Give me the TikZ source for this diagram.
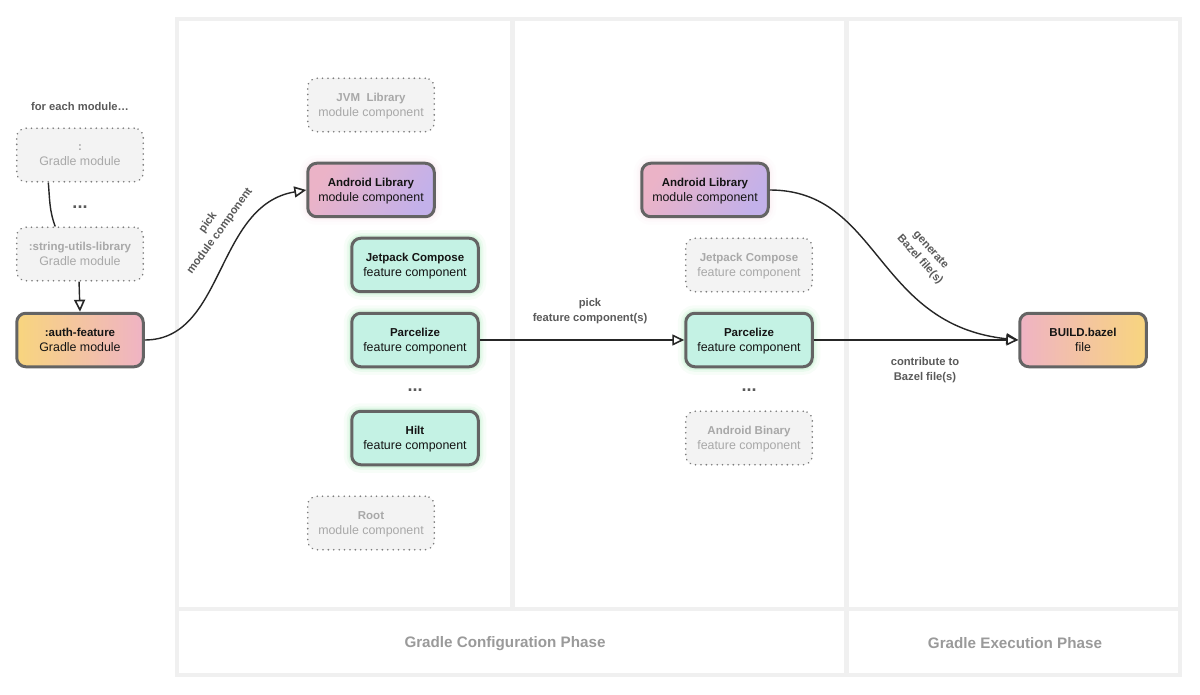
\documentclass[tikz,border=0pt]{standalone}
\usepackage{fontspec}
\setmainfont{Liberation Sans}
\usetikzlibrary{arrows.meta}
\definecolor{frameline}{HTML}{F0F0F0}
\definecolor{boxline}{HTML}{646464}
\definecolor{labelgrey}{HTML}{5A5A5A}
\definecolor{phasegrey}{HTML}{9A9A9A}
\definecolor{fadedtext}{HTML}{A8A8A8}
\definecolor{fadedfill}{HTML}{F3F3F3}
\definecolor{inkblack}{HTML}{141414}
\definecolor{sunyellow}{HTML}{F8D57E}
\definecolor{softpink}{HTML}{EFB3C4}
\definecolor{softpurple}{HTML}{C3B1EA}
\definecolor{mintfill}{HTML}{C4F2E4}
\newcommand\boxtitle[1]{{\fontsize{11.5}{15.4}\selectfont\bfseries #1}}
\tikzset{
  base/.style={rectangle,rounded corners=9pt,minimum width=126.5pt,minimum height=53.5pt,
    inner sep=0pt,align=center,text depth=-1pt,font=\fontsize{12.4}{15.4}\selectfont},
  solidbox/.style={base,draw=boxline,line width=3pt,text=inkblack},
  faded/.style={base,draw=boxline!85,fill=fadedfill,text=fadedtext,line width=1.6pt,
    line cap=round,dash pattern=on 0.2pt off 5.2pt},
  glow/.style={preaction={draw=#1,line width=16pt,opacity=.03},
    preaction={draw=#1,line width=10pt,opacity=.05},
    preaction={draw=#1,line width=6pt,opacity=.07}},
  feature/.style={solidbox,fill=mintfill,glow=green!55!teal},
  modulebox/.style={solidbox,left color=softpink!92!softpurple,right color=softpurple,shading angle=60,glow=softpink},
  authbox/.style={solidbox,left color=sunyellow,right color=softpink},
  buildbox/.style={solidbox,left color=softpink,right color=sunyellow},
  note/.style={align=center,text=labelgrey,font=\fontsize{11.2}{14.6}\selectfont\bfseries,inner sep=0pt},
  dots/.style={text=labelgrey,font=\fontsize{18}{18}\selectfont\bfseries,inner sep=0pt},
  phase/.style={text=phasegrey,font=\fontsize{15.2}{18}\selectfont\bfseries,inner sep=0pt},
  link/.style={line width=1.4pt,draw=black!85},
  flow/.style={link,-{Triangle[open,length=12pt,width=11pt,fill=white,line width=1.6pt]}},
}
\begin{document}
\begin{tikzpicture}[x=1pt,y=-1pt]
  \useasboundingbox[fill=white] (0,0) rectangle (1200,695);
  % phase panels
  \draw[frameline,line width=4.5pt]
    (177,19) rectangle (1180,675)
    (177,609) -- (1180,609)
    (512.5,19) -- (512.5,609)
    (846.5,19) -- (846.5,675);
  \draw
    (505,643.5) node[phase] (configphase){Gradle Configuration Phase}
    (1015,643.5) node[phase] (execphase){Gradle Execution Phase};
  % modules
  \draw
    (80,106) node[note] (foreach){for each module…}
    (80,155) node[faded] (rootmod){\boxtitle{:}\\Gradle module}
    (80,207) node[dots] (moddots){...}
    (80,254) node[faded] (stringmod){\boxtitle{:string-utils-library}\\Gradle module}
    (80,340) node[authbox] (authmod){\boxtitle{:auth-feature}\\Gradle module};
  % configuration phase
  \draw
    (371,105) node[faded] (jvmlib){\boxtitle{JVM\ \ Library}\\module component}
    (371,190) node[modulebox] (androidlib){\boxtitle{Android Library}\\module component}
    (415,265) node[feature] (compose){\boxtitle{Jetpack Compose}\\feature component}
    (415,340) node[feature] (parcelize){\boxtitle{Parcelize}\\feature component}
    (415,390) node[dots] (featdots){...}
    (415,438) node[feature] (hilt){\boxtitle{Hilt}\\feature component}
    (371,523) node[faded] (rootcomp){\boxtitle{Root}\\module component};
  % execution side
  \draw
    (705,190) node[modulebox] (androidlibb){\boxtitle{Android Library}\\module component}
    (749,265) node[faded] (composeb){\boxtitle{Jetpack Compose}\\feature component}
    (749,340) node[feature] (parcelizeb){\boxtitle{Parcelize}\\feature component}
    (749,390) node[dots] (featdotsb){...}
    (749,438) node[faded] (binary){\boxtitle{Android Binary}\\feature component}
    (1083,340) node[buildbox] (build){\boxtitle{BUILD.bazel}\\file};
  % edge labels
  \draw
    (214,227) node[note,rotate=54] (picklabel){pick\\module component}
    (590,311) node[note] (pickfeat){pick\\feature component(s)}
    (925,255) node[note,rotate=-48] (genlabel){generate\\Bazel file(s)}
    (925,370) node[note] (contrib){contribute to\\Bazel file(s)};
  \begin{scope}[link]
    \draw (rootmod.221) to[out=-85,in=110] (stringmod.132);
    \draw[flow] (stringmod.268) to (authmod.north);
    \draw[flow] (authmod.east) .. controls (225,340) and (215,205) .. (androidlib.west);
    \draw[flow] (parcelize.east) to (parcelizeb.west);
    \draw[flow] (androidlibb.east) .. controls (880,190) and (875,325) .. (build.west);
    \draw[flow] (parcelizeb.east) to (build.west);
  \end{scope}
\end{tikzpicture}
\end{document}
